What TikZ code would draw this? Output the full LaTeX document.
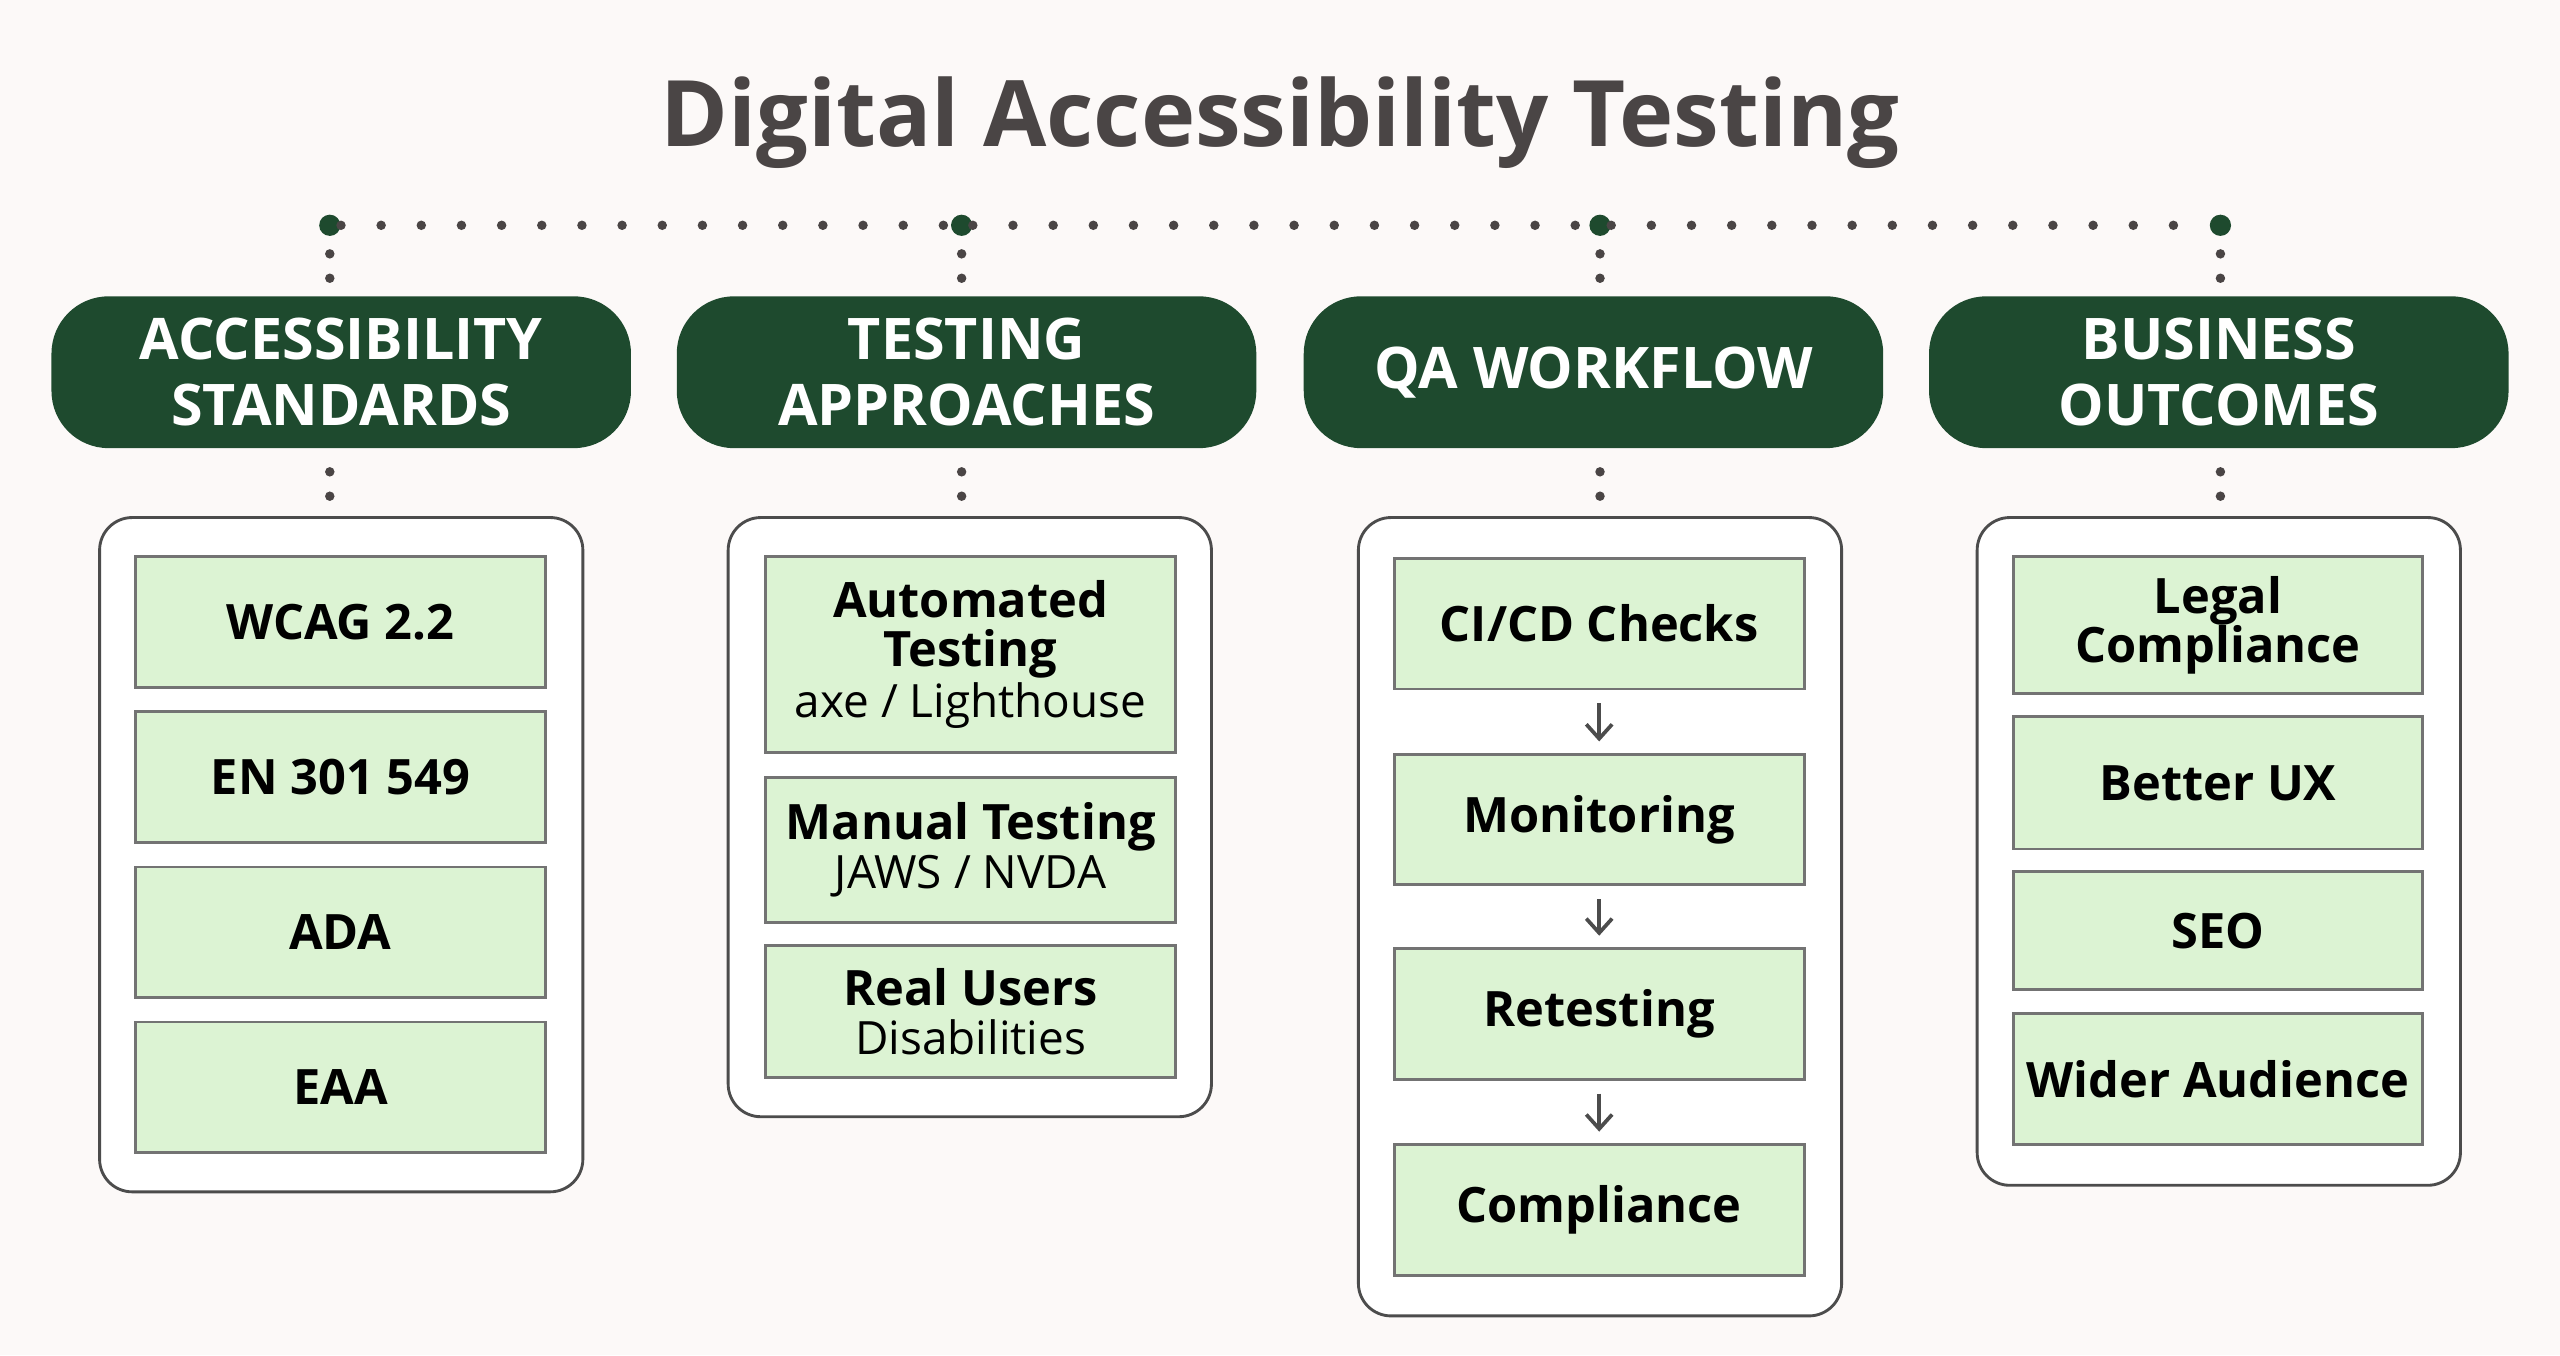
\documentclass[tikz,border=0pt]{standalone}
\usepackage{fontspec}
\setmainfont{Open Sans}
\usetikzlibrary{arrows.meta}
\newcommand\subtx[1]{{\fontsize{16}{19}\selectfont\mdseries #1}}
\begin{document}
\definecolor{bg}{HTML}{FCF9F8}
\definecolor{hdr}{HTML}{1E4A2E}
\definecolor{boxf}{HTML}{DCF3D3}
\definecolor{ttl}{HTML}{4A4545}
\begin{tikzpicture}[x=0.02cm,y=-0.02cm,
  hd/.style={fill=hdr,rounded corners=0.7cm,minimum width=7.1cm,minimum height=1.86cm,text=white,font=\fontsize{20}{23}\selectfont\bfseries,align=center},
  pn/.style={draw=black!70,line width=1pt,fill=white,rounded corners=0.4cm},
  bx/.style={draw=black!55,line width=1pt,fill=boxf,minimum width=5.02cm,align=center,font=\fontsize{17}{20}\selectfont\bfseries,inner sep=2pt},
  dl/.style={line width=3.3pt,dash pattern=on 0pt off 14pt,line cap=round,color=ttl},
  dt/.style={circle,fill=hdr,minimum size=0.26cm,inner sep=0pt},
  ar/.style={-{Straight Barb[length=5pt,width=9pt]},line width=1.3pt,color=black!70}]
\fill[bg] (0,0) rectangle (1568,830);
\useasboundingbox (0,0) rectangle (1568,830);
\node[text=ttl,font=\fontsize{32}{36}\selectfont\bfseries] (title) at (784,75) {Digital Accessibility Testing};
% top dots
\node[dt] (d1) at (202,138) {};
\node[dt] (d2) at (589,138) {};
\node[dt] (d3) at (980,138) {};
\node[dt] (d4) at (1360,138) {};
\draw[dl] (d1) -- (d2); \draw[dl] (d2) -- (d3); \draw[dl] (d3) -- (d4);
% headers
\node[hd] (h1) at (209,228) {ACCESSIBILITY\\STANDARDS};
\node[hd] (h2) at (592,228) {TESTING\\APPROACHES};
\node[hd] (h3) at (976,228) {QA WORKFLOW};
\node[hd] (h4) at (1359,228) {BUSINESS\\OUTCOMES};
% panels
\draw[pn] (61,317) rectangle (357,730); \coordinate (p1) at (202,317);
\draw[pn] (446,317) rectangle (742,684); \coordinate (p2) at (589,317);
\draw[pn] (832,317) rectangle (1128,806); \coordinate (p3) at (980,317);
\draw[pn] (1211,317) rectangle (1507,726); \coordinate (p4) at (1360,317);
\coordinate (t1) at (202,181); \coordinate (t2) at (589,181); \coordinate (t3) at (980,181); \coordinate (t4) at (1360,181);
\coordinate (b1) at (202,274); \coordinate (b2) at (589,274); \coordinate (b3) at (980,274); \coordinate (b4) at (1360,274);
\foreach \i in {1,2,3,4}{\draw[dl,dash pattern=on 0pt off 8.5pt] ([yshift=-0.35cm]d\i.center) -- (t\i); \draw[dl,dash pattern=on 0pt off 8.5pt] ([yshift=-0.3cm]b\i) -- ([yshift=0.2cm]p\i);}
% col1
\node[bx,minimum height=1.6cm] (a1) at (208.5,381) {WCAG 2.2};
\node[bx,minimum height=1.6cm] (a2) at (208.5,476) {EN 301 549};
\node[bx,minimum height=1.6cm] (a3) at (208.5,571) {ADA};
\node[bx,minimum height=1.6cm] (a4) at (208.5,666) {EAA};
% col2
\node[bx,minimum height=2.4cm] (c1) at (594.5,401) {Automated\\[-3pt]Testing\\[-2pt]\subtx{axe / Lighthouse}};
\node[bx,minimum height=1.78cm] (c2) at (594.5,520.5) {Manual Testing\\[-3pt]\subtx{JAWS / NVDA}};
\node[bx,minimum height=1.62cm] (c3) at (594.5,619.5) {Real Users\\[-3pt]\subtx{Disabilities}};
% col3
\node[bx,minimum height=1.6cm] (q1) at (979.5,382) {CI/CD Checks};
\node[bx,minimum height=1.6cm] (q2) at (979.5,502) {Monitoring};
\node[bx,minimum height=1.6cm] (q3) at (979.5,621) {Retesting};
\node[bx,minimum height=1.6cm] (q4) at (979.5,741) {Compliance};
\draw[ar] ([yshift=-0.16cm]q1.south) -- ([yshift=0.14cm]q2.north);
\draw[ar] ([yshift=-0.16cm]q2.south) -- ([yshift=0.14cm]q3.north);
\draw[ar] ([yshift=-0.16cm]q3.south) -- ([yshift=0.14cm]q4.north);
% col4
\node[bx,minimum height=1.68cm] (o1) at (1358.5,383) {Legal\\[-3pt]Compliance};
\node[bx,minimum height=1.62cm] (o2) at (1358.5,479.5) {Better UX};
\node[bx,minimum height=1.44cm] (o3) at (1358.5,570) {SEO};
\node[bx,minimum height=1.6cm] (o4) at (1358.5,661) {Wider Audience};
\end{tikzpicture}
\end{document}
